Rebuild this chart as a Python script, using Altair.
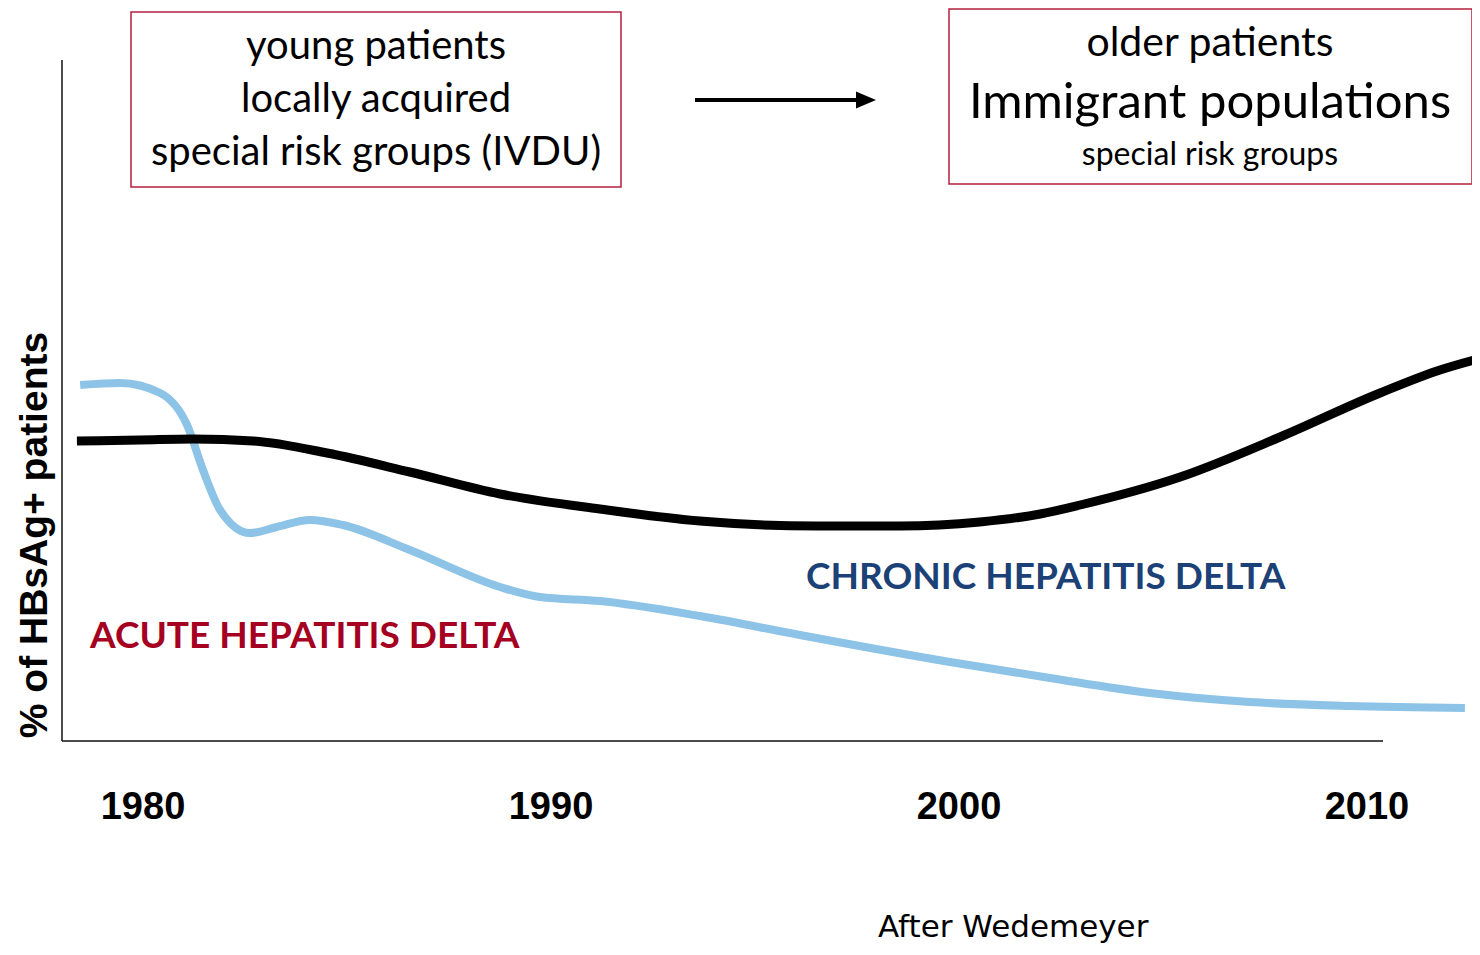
import altair as alt
import pandas as pd

# Chronic hepatitis delta (black) – relative level
chronic_years = [1978.38, 1979.93, 1981.23, 1982.70, 1984.51, 1986.54, 1988.75, 1991.20,
                 1993.65, 1996.52, 1998.55, 2000.51, 2001.99, 2002.97, 2005.42, 2007.87,
                 2010.32, 2011.79, 2012.72]
chronic_vals = [300, 301, 302, 300, 288, 269, 247, 232, 220, 215, 215, 219, 227, 236,
                264, 304, 348, 371, 382]

# Acute hepatitis delta (light blue)
acute_years = [1978.46, 1979.44, 1980.42, 1981.08, 1981.47, 1981.89, 1982.62, 1983.28,
               1984.09, 1984.90, 1986.54, 1988.75, 1989.73, 1991.20, 1993.65, 1996.10,
               1999.78, 2002.23, 2004.68, 2007.13, 2009.58, 2012.40]
acute_vals = [356, 358, 348, 316, 271, 231, 208, 214, 221, 216, 191, 154, 144, 140, 125,
              106, 79, 63, 48, 39, 35, 33]

tick_years = [1980, 1990, 2000, 2010]
tick_labels = ["1980", "1990", "2000", "2010"]

left_box_lines = ["young patients", "locally acquired", "special risk groups (IVDU)"]
right_box_lines = ["older patients", "Immigrant populations", "special risk groups"]

W, H = 1464, 939
xs = alt.Scale(domain=[1976.691, 2012.574], nice=False, zero=False)
ys = alt.Scale(domain=[-206, 733], nice=False, zero=False)

chronic_df = pd.DataFrame({"year": chronic_years, "value": chronic_vals})
acute_df = pd.DataFrame({"year": acute_years, "value": acute_vals})
ticks_df = pd.DataFrame({"year": tick_years, "label": tick_labels})

X = alt.X("year:Q", scale=xs, axis=None)
Y = alt.Y("value:Q", scale=ys, axis=None)

acute_line = alt.Chart(acute_df).mark_line(
    interpolate="monotone", color="#8cc3e6", strokeWidth=8, clip=True
).encode(x=X, y=Y)

chronic_line = alt.Chart(chronic_df).mark_line(
    interpolate="monotone", color="#000000", strokeWidth=9, clip=True
).encode(x=X, y=Y)

ticks = alt.Chart(ticks_df).mark_text(
    font="Liberation Sans Narrow, Liberation Sans", fontWeight="bold", fontSize=38,
    color="#000000", align="center", baseline="middle"
).encode(x=X, y=alt.value(800), text="label:N")

base = alt.Chart(pd.DataFrame({"d": [0]}))

y_axis = base.mark_rule(color="#111111", strokeWidth=1.5).encode(
    x=alt.value(54), y=alt.value(52), y2=alt.value(733))
x_axis = base.mark_rule(color="#111111", strokeWidth=1.5).encode(
    x=alt.value(54), x2=alt.value(1375), y=alt.value(733))

y_title = base.mark_text(
    text="% of HBsAg+ patients", font="Liberation Sans", fontWeight="bold", fontSize=39,
    angle=270, align="center", baseline="middle", color="#000000"
).encode(x=alt.value(27), y=alt.value(527))

box_stroke = "#b5213e"
left_box = base.mark_rect(fill="white", stroke=box_stroke, strokeWidth=1.5).encode(
    x=alt.value(123), x2=alt.value(613), y=alt.value(4), y2=alt.value(179))
right_box = base.mark_rect(fill="white", stroke=box_stroke, strokeWidth=1.5).encode(
    x=alt.value(941), x2=alt.value(1464), y=alt.value(1), y2=alt.value(176))

box_font = "Lato"
lt = []
for txt, yy in zip(left_box_lines, [39, 92, 145]):
    lt.append(base.mark_text(text=txt, font=box_font, fontSize=40, align="center",
                             baseline="middle", color="#000000").encode(
        x=alt.value(368), y=alt.value(yy)))
rt = []
for txt, yy, fs in zip(right_box_lines, [36, 95, 147], [41, 49, 32]):
    rt.append(base.mark_text(text=txt, font=box_font, fontSize=fs, align="center",
                             baseline="middle", color="#000000").encode(
        x=alt.value(1202), y=alt.value(yy)))

arrow_shaft = base.mark_rule(color="#000000", strokeWidth=4).encode(
    x=alt.value(687), x2=alt.value(852), y=alt.value(92))
arrow_head = base.mark_point(
    shape="M-1,-0.85L1,0L-1,0.85Z", size=400, filled=True, color="#000000", opacity=1
).encode(x=alt.value(858), y=alt.value(92))

acute_label = base.mark_text(
    text="ACUTE HEPATITIS DELTA", font="Lato", fontWeight="bold", fontSize=37,
    color="#a50021", align="left", baseline="middle"
).encode(x=alt.value(82), y=alt.value(629))
chronic_label = base.mark_text(
    text="CHRONIC HEPATITIS DELTA", font="Lato", fontWeight="bold", fontSize=37,
    color="#1b4176", align="left", baseline="middle"
).encode(x=alt.value(798), y=alt.value(570))
source = base.mark_text(
    text="After Wedemeyer", font="DejaVu Sans", fontSize=31, color="#000000",
    align="left", baseline="alphabetic"
).encode(x=alt.value(870), y=alt.value(929))

chart = alt.layer(
    y_axis, x_axis, acute_line, chronic_line, ticks, y_title,
    left_box, right_box, *lt, *rt, arrow_shaft, arrow_head,
    acute_label, chronic_label, source
).properties(
    width=W, height=H, padding=0, autosize=alt.AutoSizeParams(type="none")
).configure_view(stroke=None)

chart.save("out.html", embed_options={"renderer": "svg", "actions": False})
